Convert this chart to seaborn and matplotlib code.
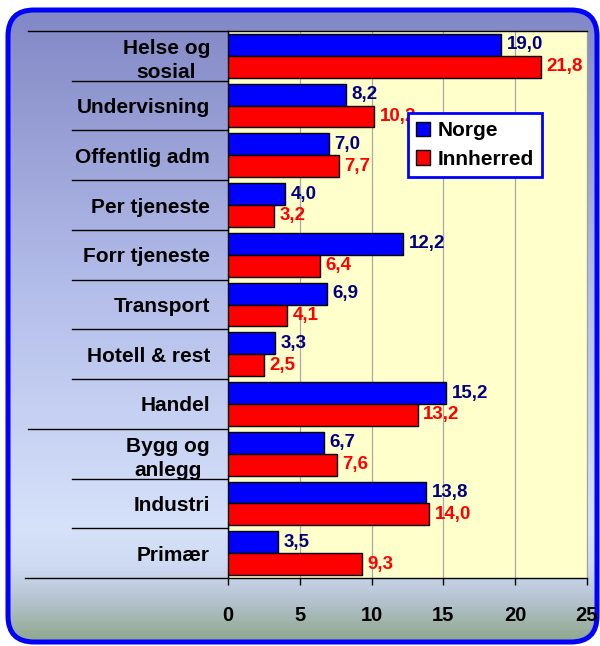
import numpy as np
import pandas as pd
import matplotlib
matplotlib.use("Agg")
import matplotlib.pyplot as plt
import seaborn as sns
from matplotlib.patches import FancyBboxPatch, Patch
from matplotlib.colors import LinearSegmentedColormap
import matplotlib.transforms as mtransforms

categories = ["Helse og\nsosial", "Undervisning", "Offentlig adm", "Per tjeneste",
              "Forr tjeneste", "Transport", "Hotell & rest", "Handel",
              "Bygg og\nanlegg", "Industri", "Primær"]
norge = [19.0, 8.2, 7.0, 4.0, 12.2, 6.9, 3.3, 15.2, 6.7, 13.8, 3.5]
innherred = [21.8, 10.2, 7.7, 3.2, 6.4, 4.1, 2.5, 13.2, 7.6, 14.0, 9.3]
series_names = ["Norge", "Innherred"]
x_ticks = [0, 5, 10, 15, 20, 25]

plt.rcParams['font.family'] = ['Liberation Sans', 'DejaVu Sans']
plt.rcParams['font.weight'] = 'bold'

df = pd.DataFrame({
    "Kategori": categories * 2,
    "Verdi": norge + innherred,
    "Serie": [series_names[0]] * len(categories) + [series_names[1]] * len(categories),
})

W, H = 600, 646
fig = plt.figure(figsize=(W / 100, H / 100), dpi=100)
fig.patch.set_facecolor("white")

# background gradient inside rounded border
bg = fig.add_axes([0, 0, 1, 1], zorder=-5)
bg.set_xlim(0, W)
bg.set_ylim(0, H)
bg.axis("off")
stops = [(0.0, (128, 134, 196)), (0.45, (180, 190, 234)), (0.82, (214, 226, 250)),
         (0.88, (205, 218, 242)), (0.93, (182, 196, 210)), (1.0, (140, 165, 135))]
cmap = LinearSegmentedColormap.from_list("bg", [(p, tuple(c / 255 for c in col)) for p, col in stops])
grad = np.linspace(0, 1, 400).reshape(-1, 1)
box = FancyBboxPatch((8, 4), 589, 632, boxstyle="round,pad=0,rounding_size=26",
                     facecolor="none", edgecolor="#0000FF", linewidth=3.6, zorder=3)
bg.add_patch(box)
im = bg.imshow(grad, cmap=cmap, aspect="auto", extent=[0, W, 0, H], origin="upper", zorder=1)
im.set_clip_path(box)

ax = fig.add_axes([228 / W, 1 - 578 / H, 359 / W, 547 / H])
ax.set_facecolor("#FFFFCC")
sns.barplot(data=df, x="Verdi", y="Kategori", hue="Serie", orient="h",
            palette=["#0000FF", "#FF0000"], edgecolor="black", linewidth=1.0,
            width=0.88, saturation=1, ax=ax, legend=False, zorder=3)

n = len(categories)
ax.set_xlim(0, 25)
ax.set_ylim(n - 0.5, -0.5)
ax.set_xticks(x_ticks)
ax.set_xticklabels([str(t) for t in x_ticks], fontsize=14.5, fontweight="bold")
ax.xaxis.grid(True, color="#A8A8A8", linewidth=0.9, zorder=0)
ax.set_axisbelow(True)
ax.tick_params(axis="x", length=5, width=1, color="black", pad=15)
ax.tick_params(axis="y", length=0, pad=13)
for lab in ax.get_yticklabels():
    lab.set_fontsize(15)
    lab.set_fontweight("bold")
    lab.set_multialignment("center")
    lab.set_linespacing(1.35)
ax.set_xlabel("")
ax.set_ylabel("")
for s in ["left", "bottom", "top"]:
    ax.spines[s].set_color("black")
    ax.spines[s].set_linewidth(1.0)
ax.spines["right"].set_color("#A0A0A0")

# value labels
label_colors = ["#000080", "#FF0000"]
for cont, vals, col in zip(ax.containers, [norge, innherred], label_colors):
    ax.bar_label(cont, labels=[f"{v:.1f}".replace(".", ",") for v in vals],
                 padding=4, color=col, fontsize=13.5, fontweight="bold", zorder=4)

# category separator lines extending left
trans = mtransforms.blended_transform_factory(ax.transAxes, ax.transData)
for i in range(n + 1):
    yb = i - 0.5
    if i == 0 or i == 8:
        x0 = -0.557
    elif i == n:
        x0 = -0.565
    else:
        x0 = -0.4345
    ax.plot([x0, 0], [yb, yb], transform=trans, color="black", linewidth=1.0,
            clip_on=False, zorder=5)

handles = [Patch(facecolor="#0000FF", edgecolor="black", linewidth=1.0, label=series_names[0]),
           Patch(facecolor="#FF0000", edgecolor="black", linewidth=1.0, label=series_names[1])]
leg = ax.legend(handles=handles, loc="upper left", bbox_to_anchor=(0.5, 0.85),
                borderaxespad=0, frameon=True, fancybox=False, framealpha=1,
                prop={"size": 15, "weight": "bold"}, handlelength=0.7, handleheight=0.7,
                handletextpad=0.35, labelspacing=0.45, borderpad=0.4)
leg.get_frame().set_edgecolor("#0000FF")
leg.get_frame().set_linewidth(2.0)
leg.set_zorder(10)

fig.savefig("out.png", dpi=100)
